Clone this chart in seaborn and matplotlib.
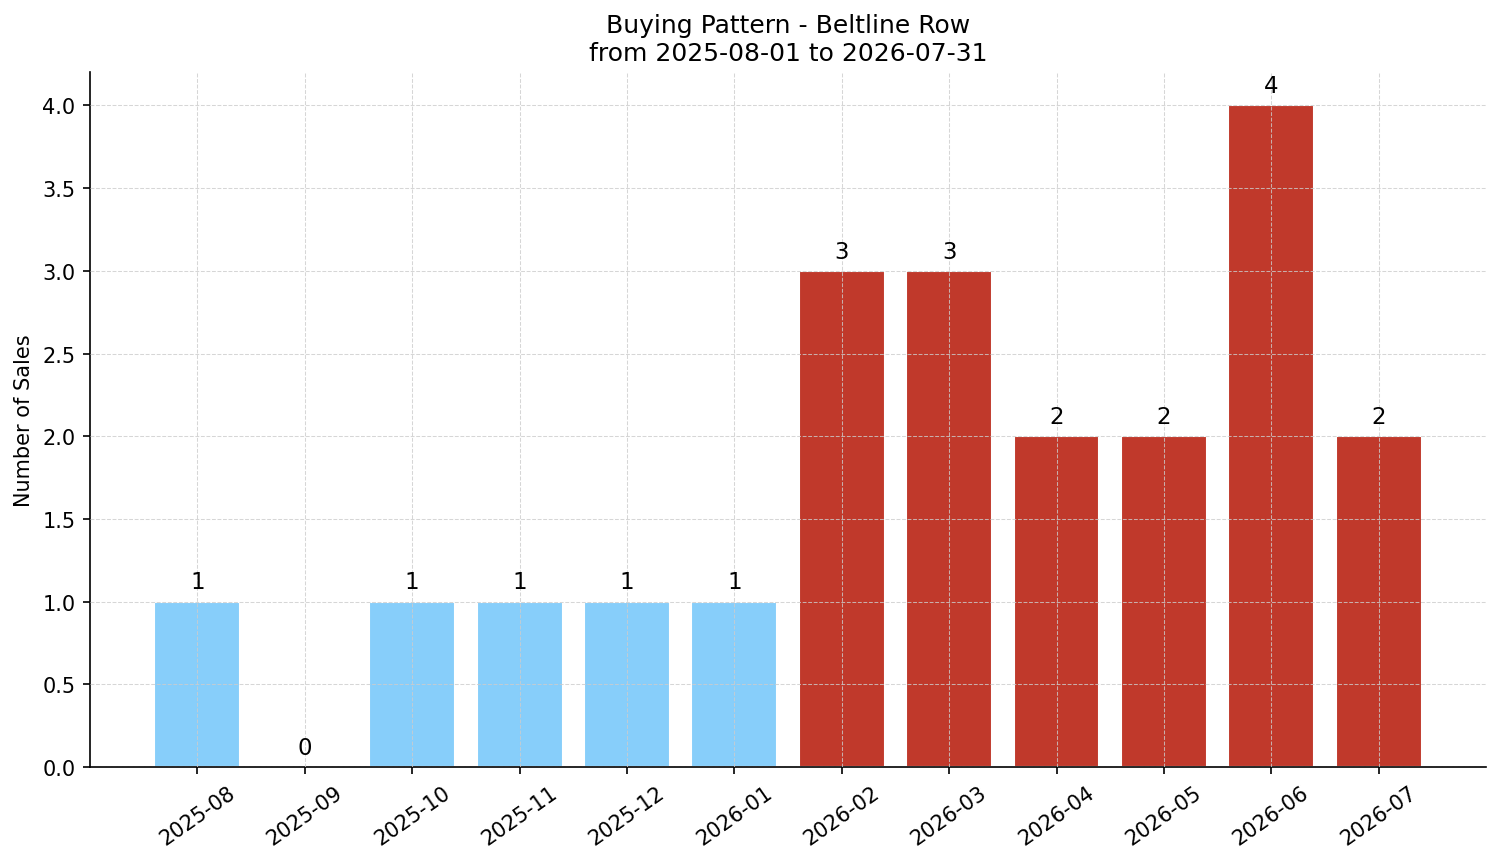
import seaborn as sns
import matplotlib.pyplot as plt
import pandas as pd

months = ['2025-08', '2025-09', '2025-10', '2025-11', '2025-12', '2026-01',
          '2026-02', '2026-03', '2026-04', '2026-05', '2026-06', '2026-07']
sales = [1, 0, 1, 1, 1, 1, 3, 3, 2, 2, 4, 2]
period = ['past'] * 6 + ['recent'] * 6


def main():
    sns.set_style('ticks')
    plt.rcParams['font.family'] = ['DejaVu Sans']
    plt.rcParams.update({'text.color': 'black', 'axes.labelcolor': 'black',
                         'xtick.color': 'black', 'ytick.color': 'black',
                         'axes.edgecolor': 'black'})
    df = pd.DataFrame({'month': months, 'sales': sales, 'period': period})

    fig, ax = plt.subplots(figsize=(10.007, 5.753), dpi=150)
    sns.barplot(data=df, x='month', y='sales', hue='period',
                palette={'past': '#87CEFA', 'recent': '#C0392B'},
                dodge=False, width=0.8, saturation=1, legend=False, ax=ax)

    for i, v in enumerate(sales):
        ax.text(i, v + 0.05, str(v), ha='center', va='bottom', fontsize=11)

    ax.set_ylim(0, 4.2)
    ax.set_xlim(-1, 12)
    ax.grid(True, linestyle='--', linewidth=0.5, color='#cccccc', alpha=0.8)
    ax.set_axisbelow(False)
    ax.set_title('Buying Pattern - Beltline Row\nfrom 2025-08-01 to 2026-07-31', fontsize=12)
    ax.set_xlabel('')
    ax.set_ylabel('Number of Sales')
    ax.tick_params(axis='x', rotation=35)
    sns.despine(ax=ax)
    fig.subplots_adjust(left=0.06, right=0.99, top=0.915, bottom=0.11)
    fig.savefig('out.png')


if __name__ == "__main__":
    main()
